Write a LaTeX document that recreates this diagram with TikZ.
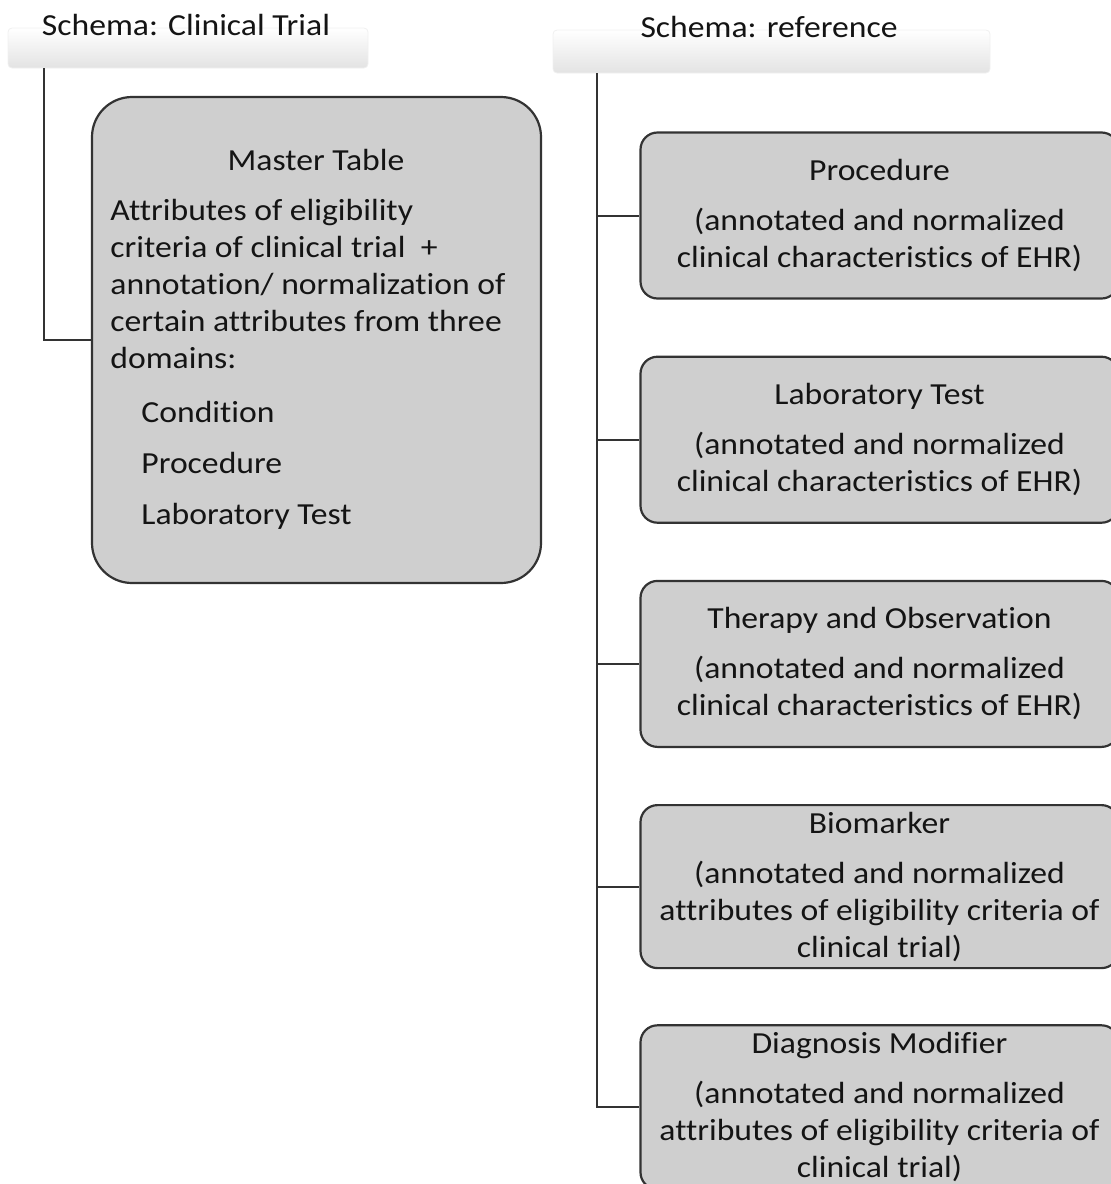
\documentclass[tikz,border=0pt]{standalone}
\usepackage{fontspec}
\setmainfont{Carlito}[FakeStretch=1.1, RawFeature={-liga;-clig;-calt;-dlig}]
\usetikzlibrary{positioning}

\begin{document}
\begin{tikzpicture}[x=0.5pt, y=-0.5pt, node distance=28pt, font=\fontsize{15.3}{18.5}\selectfont, text=black!92]
                \tikzstyle{tab} = [minimum width=180pt, minimum height=20pt, rounded corners=2pt, top color=white, bottom color=black!11, draw=black!6]
                \tikzstyle{conn} = [draw=black!80, line width=1pt]
                \tikzstyle{master} = [draw=black!80, line width=1.1pt, fill=black!19, rounded corners=20pt, minimum width=224.5pt, minimum height=243pt]
                \tikzstyle{refbox} = [draw=black!80, line width=1.1pt, fill=black!19, rounded corners=8.5pt, minimum width=239pt, minimum height=83pt, inner sep=2pt, align=center]

                \useasboundingbox (0,0) rectangle (1111,1184);

                % Schema tabs
                \node[tab] (tabct) at (188,48) {};
                \node (ctlabel) at (186,25) {Schema: Clinical Trial};
                \node[tab, minimum width=218.5pt, minimum height=21.5pt] (tabref) at (771.5,51.5) {};
                \node (reflabel) at (769,27) {Schema: reference};

                % Clinical trial side
                \node[master] (mastertbl) at (316.5,340) {};
                \node (mtitle) at (316,160) {Master Table};
                \node[anchor=north west, inner sep=0pt, align=left] (mbody) at (110,199) {Attributes of eligibility\\
                    criteria of clinical trial~ +\\
                    annotation/ normalization of\\
                    certain attributes from three\\
                    domains:\\[8.5pt]
                    \hspace*{15.5pt}Condition\\[7pt]
                    \hspace*{15.5pt}Procedure\\[7pt]
                    \hspace*{15.5pt}Laboratory Test};

                % Reference side
                \node[refbox] (proc) at (879.5,215.5) {Procedure\\[6.5pt] (annotated and normalized\\ clinical characteristics of EHR)};
                \node[refbox] (lab) [below=of proc] {Laboratory Test\\[6.5pt] (annotated and normalized\\ clinical characteristics of EHR)};
                \node[refbox] (ther) [below=of lab] {Therapy and Observation\\[6.5pt] (annotated and normalized\\ clinical characteristics of EHR)};
                \node[refbox, minimum height=81.5pt] (bio) [below=of ther] {Biomarker\\[6.5pt] (annotated and normalized\\ attributes of eligibility criteria of\\ clinical trial)};
                \node[refbox, minimum height=82pt] (diag) [below=27.5pt of bio] {Diagnosis Modifier\\[6.5pt] (annotated and normalized\\ attributes of eligibility criteria of\\ clinical trial)};

                % Tree lines
                \coordinate (ctroot) at ([xshift=18pt]tabct.south west);
                \coordinate (refroot) at ([xshift=22pt]tabref.south west);
                \draw[conn] (ctroot) |- (mastertbl.west);
                \draw[conn] (refroot) |- (diag.west);
                \foreach \n in {proc, lab, ther, bio}
                    \draw[conn] (refroot |- \n.west) -- (\n.west);
\end{tikzpicture}
\end{document}
